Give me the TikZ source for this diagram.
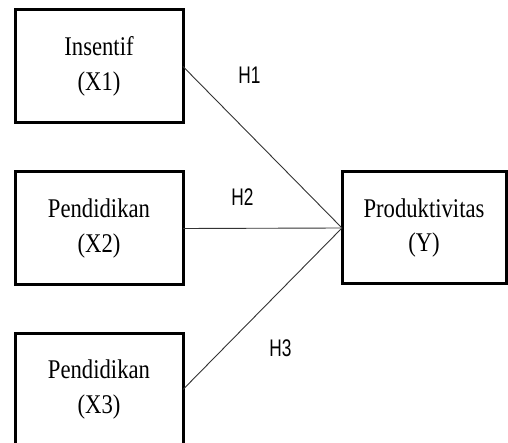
\documentclass[tikz,border=0pt]{standalone}
\usepackage{fontspec}
\setmainfont{Liberation Serif}[FakeStretch=0.84]
\newfontfamily\hfont{Liberation Sans}[FakeStretch=0.72]
\begin{document}
\begin{tikzpicture}[x=1pt,y=-1pt,
  varbox/.style={draw=black, line width=3pt, fill=white, rectangle, outer sep=0pt,
    minimum width=168pt, minimum height=113pt, align=center, inner sep=0pt,
    font=\fontsize{27}{34.5}\selectfont},
  link/.style={draw=black!80, line width=0.9pt},
  hyp/.style={font=\hfont\fontsize{24}{28}\selectfont, inner sep=0pt}]
\useasboundingbox (0,0) rectangle (508,443);
\clip (0,0) rectangle (508,443);
\node[varbox] (x1) at (99,66.5) {Insentif\\(X1)};
\node[varbox] (x2) at (99,228.5) {Pendidikan\\(X2)};
\node[varbox] (x3) at (99,389.5) {Pendidikan\\(X3)};
\node[varbox, minimum width=164pt, minimum height=112pt] (y) at (424,228) {Produktivitas\\(Y)};
\draw[link] (x1.east) -- (y.west);
\draw[link] (x2.east) -- (y.west);
\draw[link] (x3.east) -- (y.west);
\node[hyp] (h1) at (249.5,75) {H1};
\node[hyp] (h2) at (242.5,197) {H2};
\node[hyp] (h3) at (280.5,348) {H3};
\end{tikzpicture}
\end{document}
